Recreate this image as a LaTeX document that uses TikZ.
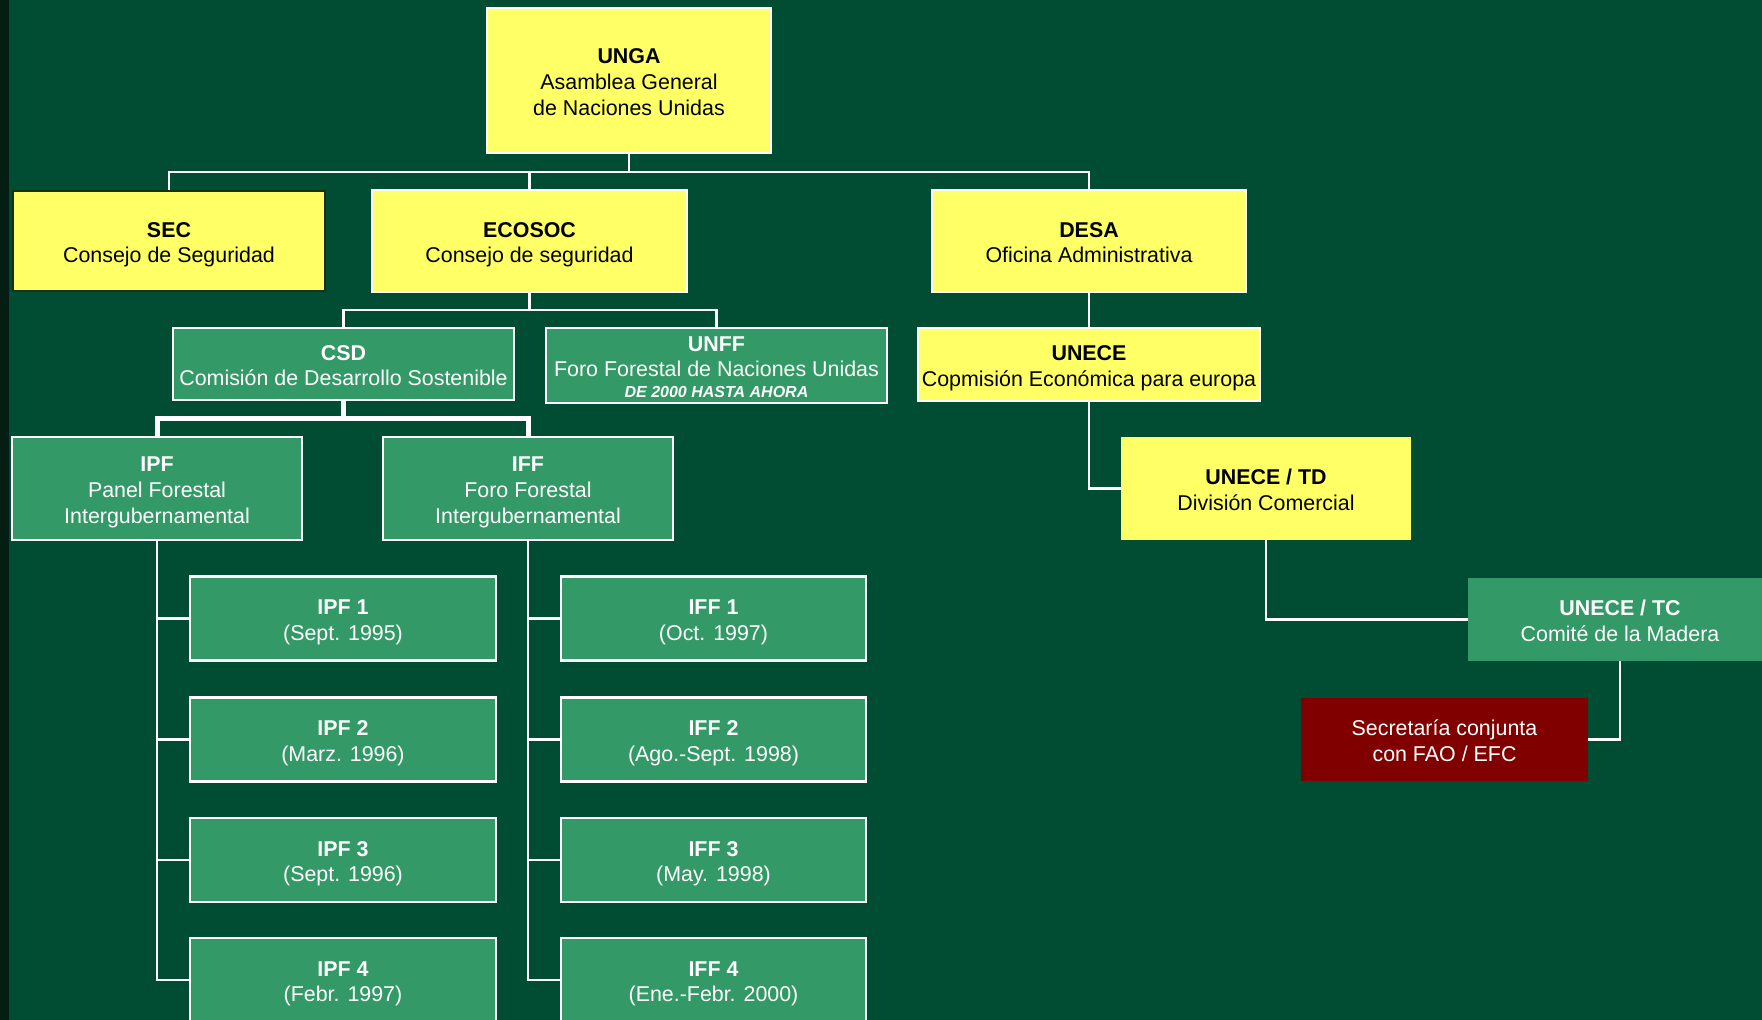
\documentclass[tikz,border=0pt]{standalone}
\usepackage{fontspec}
\setmainfont{Liberation Sans}
\definecolor{bgc}{RGB}{0,77,51}
\definecolor{stripc}{RGB}{4,30,20}
\definecolor{yelc}{RGB}{255,255,102}
\definecolor{grnc}{RGB}{51,153,102}
\definecolor{redc}{RGB}{128,0,0}
\definecolor{secborder}{RGB}{24,48,20}
\newcommand\topst{\rule{0pt}{23.3pt}}
\newcommand\botst{\rule[-5.5pt]{0pt}{5.5pt}}
\tikzset{
  base/.style={rectangle, inner sep=0pt, align=center, font=\fontsize{21.4}{25.8}\selectfont},
  ybox/.style={base, fill=yelc, draw=white, line width=2.2pt, text=black},
  gbox/.style={base, fill=grnc, draw=white, line width=2.2pt, text=white},
  yplain/.style={base, fill=yelc, text=black},
  gplain/.style={base, fill=grnc, text=white},
  rplain/.style={base, fill=redc, text=white},
  conn/.style={draw=white, line width=2.4pt},
  thickconn/.style={draw=white, line width=5pt}
}
\begin{document}
\begin{tikzpicture}[x=1pt,y=-1pt]
\useasboundingbox (0,0) rectangle (1762,1020);
\fill[bgc] (0,0) rectangle (1762,1020);
\fill[stripc] (0,0) rectangle (9,1020);

\coordinate (b1) at (629,172);
\coordinate (b2) at (529.5,310);
\coordinate (b3) at (343.5,418);

% nodes
\node[ybox, minimum width=284, minimum height=145] (unga) at (629,80.5) {\topst\textbf{UNGA}\\Asamblea General\\de Naciones Unidas\botst};
\node[ybox, draw=secborder, minimum width=312, minimum height=100] (sec) at (169,241) {\topst\textbf{SEC}\\Consejo de Seguridad\botst};
\node[ybox, minimum width=315, minimum height=102] (ecosoc) at (529.5,241) {\topst\textbf{ECOSOC}\\Consejo de seguridad\botst};
\node[ybox, minimum width=314, minimum height=102] (desa) at (1089,241) {\topst\textbf{DESA}\\Oficina Administrativa\botst};

\node[gbox, minimum width=341, minimum height=72] (csd) at (343.5,364) {\topst\textbf{CSD}\\Comisión de Desarrollo Sostenible\botst};
\node[gbox, minimum width=341, minimum height=73] (unff) at (716.5,365.5) {\topst\textbf{UNFF}\\Foro Forestal de Naciones Unidas\\[-5pt]{\fontsize{16}{17}\selectfont\bfseries\itshape DE 2000 HASTA AHORA}\botst};
\node[ybox, minimum width=342, minimum height=73] (unece) at (1089,364.5) {\topst\textbf{UNECE}\\Copmisión Económica para europa\botst};

\node[yplain, minimum width=290, minimum height=103] (td) at (1266,488.5) {\topst\textbf{UNECE / TD}\\División Comercial\botst};
\node[gplain, minimum width=304, minimum height=83] (tc) at (1620,619.5) {\topst\textbf{UNECE / TC}\\Comité de la Madera\botst};
\node[rplain, minimum width=287, minimum height=83] (sc) at (1444.5,739.5) {\topst Secretaría conjunta\\con FAO / EFC\botst};

\node[gbox, minimum width=290, minimum height=103] (ipf) at (157,488.5) {\topst\textbf{IPF}\\Panel Forestal\\Intergubernamental\botst};
\node[gbox, minimum width=290, minimum height=103] (iff) at (528,488.5) {\topst\textbf{IFF}\\Foro Forestal\\Intergubernamental\botst};

\node[gbox, minimum width=306, minimum height=84] (ipf1) at (343,618.5) {\topst\textbf{IPF 1}\\(Sept. 1995)\botst};
\node[gbox, minimum width=306, minimum height=84] (ipf2) at (343,739.5) {\topst\textbf{IPF 2}\\(Marz. 1996)\botst};
\node[gbox, minimum width=306, minimum height=84] (ipf3) at (343,860) {\topst\textbf{IPF 3}\\(Sept. 1996)\botst};
\node[gbox, minimum width=306, minimum height=84] (ipf4) at (343,980) {\topst\textbf{IPF 4}\\(Febr. 1997)\botst};

\node[gbox, minimum width=305, minimum height=84] (iff1) at (713.5,618.5) {\topst\textbf{IFF 1}\\(Oct. 1997)\botst};
\node[gbox, minimum width=305, minimum height=84] (iff2) at (713.5,739.5) {\topst\textbf{IFF 2}\\(Ago.-Sept. 1998)\botst};
\node[gbox, minimum width=305, minimum height=84] (iff3) at (713.5,860) {\topst\textbf{IFF 3}\\(May. 1998)\botst};
\node[gbox, minimum width=305, minimum height=84] (iff4) at (713.5,980) {\topst\textbf{IFF 4}\\(Ene.-Febr. 2000)\botst};

% connectors
\draw[conn] (unga.south) -- (b1);
\draw[conn] (sec.north) |- (b1) -| (desa.north);
\draw[conn] (ecosoc.north) -- (ecosoc.north |- b1);
\draw[conn] (ecosoc.south) -- (b2);
\draw[conn] (csd.north) |- (b2) -| (unff.north);
\draw[thickconn] (csd.south) -- (b3);
\draw[thickconn] (ipf.north) |- (b3) -| (iff.north);
\draw[conn] (desa.south) -- (unece.north);
\draw[conn] (unece.south) |- (td.west);
\draw[conn] (td.south) |- (tc.west);
\draw[conn] (tc.south) |- (sc.east);
\draw[conn] (ipf.south) |- (ipf4.west);
\draw[conn] (ipf1.west) -- (ipf1.west -| ipf.south);
\draw[conn] (ipf2.west) -- (ipf2.west -| ipf.south);
\draw[conn] (ipf3.west) -- (ipf3.west -| ipf.south);
\draw[conn] (iff.south) |- (iff4.west);
\draw[conn] (iff1.west) -- (iff1.west -| iff.south);
\draw[conn] (iff2.west) -- (iff2.west -| iff.south);
\draw[conn] (iff3.west) -- (iff3.west -| iff.south);
\end{tikzpicture}
\end{document}
